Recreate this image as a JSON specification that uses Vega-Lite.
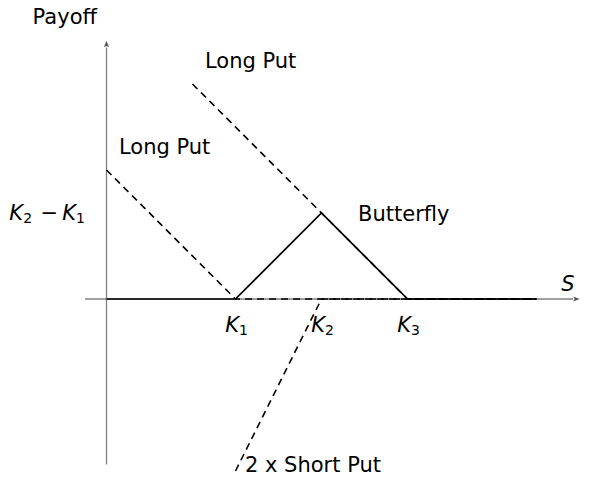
{
  "$schema": "https://vega.github.io/schema/vega-lite/v6.json",
  "width": 605,
  "height": 482,
  "padding": 0,
  "autosize": {"type": "none"},
  "background": "white",
  "config": {"view": {"stroke": null}},
  "datasets": {
    "lines": [
      {"series": "xaxis", "x": -0.5, "y": 0, "o": 0},
      {"series": "xaxis", "x": 10.85, "y": 0, "o": 1},
      {"series": "yaxis", "x": 0, "y": -3.85, "o": 0},
      {"series": "yaxis", "x": 0, "y": 5.85, "o": 1},
      {"series": "LongPutK1", "x": 0, "y": 3, "o": 0},
      {"series": "LongPutK1", "x": 3, "y": 0, "o": 1},
      {"series": "LongPutK1", "x": 10, "y": 0, "o": 2},
      {"series": "LongPutK3", "x": 2, "y": 5, "o": 0},
      {"series": "LongPutK3", "x": 7, "y": 0, "o": 1},
      {"series": "LongPutK3", "x": 10, "y": 0, "o": 2},
      {"series": "ShortPut", "x": 3, "y": -4, "o": 0},
      {"series": "ShortPut", "x": 5, "y": 0, "o": 1},
      {"series": "ShortPut", "x": 10, "y": 0, "o": 2},
      {"series": "Butterfly", "x": 0, "y": 0, "o": 0},
      {"series": "Butterfly", "x": 3, "y": 0, "o": 1},
      {"series": "Butterfly", "x": 5, "y": 2, "o": 2},
      {"series": "Butterfly", "x": 7, "y": 0, "o": 3},
      {"series": "Butterfly", "x": 10, "y": 0, "o": 4}
    ],
    "xticks": [{"x": 3}, {"x": 5}, {"x": 7}],
    "yticks": [{"y": 2}],
    "arrows": [
      {"dir": "right", "x": 11, "y": 0},
      {"dir": "up", "x": 0, "y": 6}
    ],
    "labelsLeft": [
      {"label": "Long Put", "x": 0.29, "y": 3.5},
      {"label": "Long Put", "x": 2.29, "y": 5.5},
      {"label": "Butterfly", "x": 5.85, "y": 1.95},
      {"label": "2 x Short Put", "x": 3.22, "y": -3.88}
    ],
    "labelsCenter": [
      {"label": "Payoff", "x": -0.97, "y": 6.53},
      {"label": "−", "x": -1.33, "y": 1.97}
    ],
    "kLabels": [
      {"sub": "1", "x": 3, "y": -0.63},
      {"sub": "2", "x": 5, "y": -0.63},
      {"sub": "3", "x": 7, "y": -0.63},
      {"sub": "2", "x": -2.02, "y": 1.97},
      {"sub": "1", "x": -0.79, "y": 1.97}
    ],
    "sLabel": [
      {"label": "S", "x": 10.73, "y": 0.33}
    ]
  },
  "encoding": {
    "x": {"field": "x", "type": "quantitative", "scale": {"domain": [-2.4767, 11.593], "nice": false, "zero": false}, "axis": null},
    "y": {"field": "y", "type": "quantitative", "scale": {"domain": [-4.256, 6.9535], "nice": false, "zero": false}, "axis": null}
  },
  "layer": [
    {
      "data": {"name": "lines"},
      "transform": [{"filter": "datum.series === 'xaxis' || datum.series === 'yaxis'"}],
      "mark": {"type": "line", "stroke": "#808080", "strokeWidth": 1.3},
      "encoding": {"detail": {"field": "series"}, "order": {"field": "o"}}
    },
    {
      "data": {"name": "xticks"},
      "mark": {"type": "rule", "stroke": "#808080", "strokeWidth": 1},
      "encoding": {"y": {"datum": -0.1}, "y2": {"datum": 0.1}}
    },
    {
      "data": {"name": "yticks"},
      "mark": {"type": "rule", "stroke": "#808080", "strokeWidth": 1},
      "encoding": {"x": {"datum": -0.1}, "x2": {"datum": 0.1}}
    },
    {
      "data": {"name": "arrows"},
      "transform": [{"filter": "datum.dir === 'right'"}],
      "mark": {"type": "point", "shape": "M-1,-0.8 L1,0 L-1,0.8 L-0.6,0 Z", "filled": true, "color": "#555555", "size": 40, "opacity": 1, "xOffset": -3}
    },
    {
      "data": {"name": "arrows"},
      "transform": [{"filter": "datum.dir === 'up'"}],
      "mark": {"type": "point", "shape": "M-0.8,1 L0,-1 L0.8,1 L0,0.6 Z", "filled": true, "color": "#555555", "size": 40, "opacity": 1, "yOffset": 3}
    },
    {
      "data": {"name": "lines"},
      "transform": [{"filter": "datum.series === 'LongPutK1' || datum.series === 'LongPutK3' || datum.series === 'ShortPut'"}],
      "mark": {"type": "line", "stroke": "black", "strokeWidth": 1.6, "strokeDash": [7, 5]},
      "encoding": {"detail": {"field": "series"}, "order": {"field": "o"}}
    },
    {
      "data": {"name": "lines"},
      "transform": [{"filter": "datum.series === 'Butterfly'"}],
      "mark": {"type": "line", "stroke": "black", "strokeWidth": 1.7},
      "encoding": {"order": {"field": "o"}}
    },
    {
      "data": {"name": "labelsLeft"},
      "mark": {"type": "text", "align": "left", "baseline": "middle", "font": "DejaVu Sans", "fontSize": 21, "color": "black"},
      "encoding": {"text": {"field": "label"}}
    },
    {
      "data": {"name": "labelsCenter"},
      "mark": {"type": "text", "align": "center", "baseline": "middle", "font": "DejaVu Sans", "fontSize": 21, "color": "black"},
      "encoding": {"text": {"field": "label"}}
    },
    {
      "data": {"name": "kLabels"},
      "mark": {"type": "text", "align": "right", "baseline": "middle", "dx": 3.5, "font": "DejaVu Sans", "fontStyle": "italic", "fontSize": 21, "color": "black"},
      "encoding": {"text": {"value": "K"}}
    },
    {
      "data": {"name": "kLabels"},
      "mark": {"type": "text", "align": "left", "baseline": "middle", "dx": 3.5, "dy": 5, "font": "DejaVu Sans", "fontSize": 14, "color": "black"},
      "encoding": {"text": {"field": "sub"}}
    },
    {
      "data": {"name": "sLabel"},
      "mark": {"type": "text", "align": "center", "baseline": "middle", "font": "DejaVu Sans", "fontStyle": "italic", "fontSize": 21, "color": "black"},
      "encoding": {"text": {"field": "label"}}
    }
  ]
}
